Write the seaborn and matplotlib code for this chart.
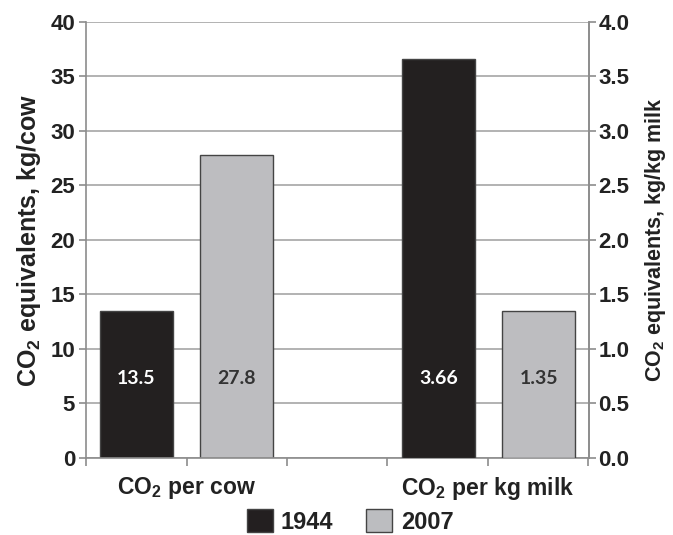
import seaborn as sns
import matplotlib.pyplot as plt
import pandas as pd
from matplotlib.patches import Patch
from matplotlib.transforms import blended_transform_factory

# datos
grupos = ["CO$_2$ per cow", " ", "CO$_2$ per kg milk"]
anios = ["1944", "2007"]
por_vaca = [13.5, 27.8]          # kg/cow (eje izquierdo)
por_kg_leche = [3.66, 1.35]      # kg/kg milk (eje derecho)
etiquetas_vaca = ["13.5", "27.8"]
etiquetas_leche = ["3.66", "1.35"]
ticks_izq = [0, 5, 10, 15, 20, 25, 30, 35, 40]
ticks_der = [0.0, 0.5, 1.0, 1.5, 2.0, 2.5, 3.0, 3.5, 4.0]

colores = {"1944": "#231f20", "2007": "#bcbdc0"}
color_texto = {"1944": "white", "2007": "#333333"}

sns.set_style("white")
plt.rcParams["font.family"] = ["Liberation Sans", "DejaVu Sans"]
plt.rcParams["font.weight"] = "bold"
plt.rcParams["mathtext.fontset"] = "custom"
plt.rcParams["mathtext.rm"] = "Liberation Sans:bold"
plt.rcParams["mathtext.bf"] = "Liberation Sans:bold"
plt.rcParams["mathtext.default"] = "rm"

data_vaca = pd.DataFrame({"grupo": grupos[0], "anio": anios, "valor": por_vaca})
data_leche = pd.DataFrame({"grupo": grupos[2], "anio": anios, "valor": por_kg_leche})

fig = plt.figure(figsize=(6.73, 5.35), dpi=100)
ax = fig.add_axes([0.128, 0.144, 0.747, 0.815])
ax2 = ax.twinx()

gris = "#8c8c8c"
ancho = 1.33
sns.barplot(data=data_vaca, x="grupo", y="valor", hue="anio", order=grupos,
            hue_order=anios, palette=colores, width=ancho, gap=0.27,
            edgecolor="#444444", linewidth=1, legend=False, ax=ax)
sns.barplot(data=data_leche, x="grupo", y="valor", hue="anio", order=grupos,
            hue_order=anios, palette=colores, width=ancho, gap=0.27,
            edgecolor="#444444", linewidth=1, legend=False, ax=ax2)

# ejes y
ax.set_ylim(0, 40)
ax.set_yticks(ticks_izq)
ax.set_yticklabels([str(t) for t in ticks_izq])
ax2.set_ylim(0, 4.0)
ax2.set_yticks(ticks_der)
ax2.set_yticklabels([f"{t:.1f}" for t in ticks_der])
ax.grid(axis="y", color="#a6a6a6", linewidth=1.2)
ax.set_axisbelow(True)

# eje x: marcas en los bordes de cada hueco
paso = ancho / 2
ax.set_xlim(-paso, 2 + paso)
bordes = [-paso + i * paso for i in range(6)]
etiquetas_x = ["" for _ in bordes]
etiquetas_x[1] = grupos[0]
etiquetas_x[4] = grupos[2]
ax.set_xticks(bordes)
ax.set_xticklabels(etiquetas_x)
ax2.set_xlim(-paso, 2 + paso)

for a in (ax, ax2):
    a.set_xlabel("")
    for s in a.spines.values():
        s.set_color(gris)
        s.set_linewidth(1.2)
    a.spines["top"].set_visible(False)
ax2.spines["left"].set_visible(False)
ax2.spines["bottom"].set_visible(False)

ax.tick_params(axis="x", direction="out", length=6, width=1.2, color=gris,
               labelsize=16.5, pad=6, bottom=True, labelcolor="#222222")
ax.tick_params(axis="y", direction="out", length=5, width=1.2, color=gris,
               labelsize=16, pad=3, left=True, labelcolor="#222222")
ax2.tick_params(axis="y", direction="out", length=5, width=1.2, color=gris,
                labelsize=16, pad=2, right=True, labelcolor="#222222")

ax.set_ylabel("CO$_2$ equivalents, kg/cow", fontsize=18, fontweight="bold",
              labelpad=5, color="#222222")
ax2.set_ylabel("CO$_2$ equivalents, kg/kg milk", fontsize=15.5, fontweight="bold",
               labelpad=10, color="#222222")

# etiquetas de valores dentro de las barras
for a, etiquetas in ((ax, etiquetas_vaca), (ax2, etiquetas_leche)):
    barras = sorted([p for p in a.patches if p.get_height() > 0], key=lambda p: p.get_x())
    trans = blended_transform_factory(a.transData, a.transAxes)
    for p, txt, anio in zip(barras, etiquetas, anios):
        a.text(p.get_x() + p.get_width() / 2, 0.183, txt, transform=trans,
               ha="center", va="center", fontsize=14, fontweight="bold",
               family="Lato", color=color_texto[anio])

# leyenda abajo
manijas = [Patch(facecolor=colores[a], edgecolor="#444444", label=a) for a in anios]
fig.legend(handles=manijas, loc="center", bbox_to_anchor=(0.52, 0.025), ncol=2,
           frameon=False, fontsize=17, handlelength=1.1, handleheight=1.1,
           columnspacing=1.4, handletextpad=0.35, labelcolor="#222222")

plt.savefig("out.png", dpi=100)
